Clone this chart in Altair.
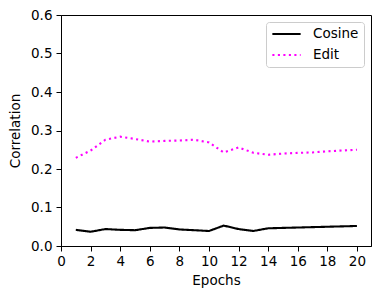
import altair as alt
import pandas as pd

epochs = list(range(1, 21))
cosine = [0.042, 0.037, 0.044, 0.042, 0.041, 0.047, 0.048, 0.043, 0.041, 0.039,
          0.053, 0.044, 0.039, 0.046, 0.047, 0.048, 0.049, 0.050, 0.051, 0.052]
edit = [0.229, 0.248, 0.276, 0.284, 0.278, 0.271, 0.273, 0.274, 0.276, 0.269,
        0.243, 0.256, 0.242, 0.237, 0.240, 0.242, 0.243, 0.246, 0.248, 0.250]
series = ["Cosine", "Edit"]
colors = ["#000000", "#ff00ff"]
dashes = [[1, 0], [2.1, 3.4]]
x_ticks = list(range(0, 21, 2))
y_ticks = [0.0, 0.1, 0.2, 0.3, 0.4, 0.5, 0.6]

df = pd.DataFrame({
    "Epochs": epochs * 2,
    "Correlation": cosine + edit,
    "series": ["Cosine"] * len(epochs) + ["Edit"] * len(epochs),
})

font = "DejaVu Sans"
fs = 13.5

axis_style = dict(grid=False, labelFlush=False, tickSize=5,
                  labelFont=font, titleFont=font, labelFontSize=fs,
                  titleFontSize=fs, labelColor="black", titleColor="black",
                  titleFontWeight="normal", domainColor="black",
                  tickColor="black", domainWidth=1, tickWidth=1)

chart = alt.Chart(df).mark_line(strokeWidth=2.1).encode(
    x=alt.X("Epochs:Q",
            scale=alt.Scale(domain=[0, 20.95], nice=False, zero=False),
            axis=alt.Axis(values=x_ticks, title="Epochs", labelPadding=3,
                          titlePadding=6, format="d", **axis_style)),
    y=alt.Y("Correlation:Q",
            scale=alt.Scale(domain=[0, 0.6], nice=False),
            axis=alt.Axis(values=y_ticks, title="Correlation", labelPadding=4,
                          titlePadding=8, format=".1f", **axis_style)),
    color=alt.Color("series:N", scale=alt.Scale(domain=series, range=colors),
                    legend=alt.Legend(title=None, orient="top-right", offset=7,
                                      symbolType="stroke", symbolSize=800,
                                      symbolStrokeWidth=2.1, labelOffset=11,
                                      clipHeight=14, rowPadding=7, padding=5,
                                      strokeColor="#cccccc", fillColor="white",
                                      cornerRadius=3, labelFontSize=fs,
                                      labelFont=font, labelColor="black")),
    strokeDash=alt.StrokeDash("series:N",
                              scale=alt.Scale(domain=series, range=dashes),
                              legend=alt.Legend(title=None)),
).properties(
    width=310, height=231,
    autosize=alt.AutoSizeParams(type="none"),
    padding={"left": 53, "top": 7, "right": 2, "bottom": 45},
    background="white",
).configure_view(
    stroke="black", strokeWidth=1
)

chart.save("out.html", embed_options={"renderer": "svg", "actions": False})
